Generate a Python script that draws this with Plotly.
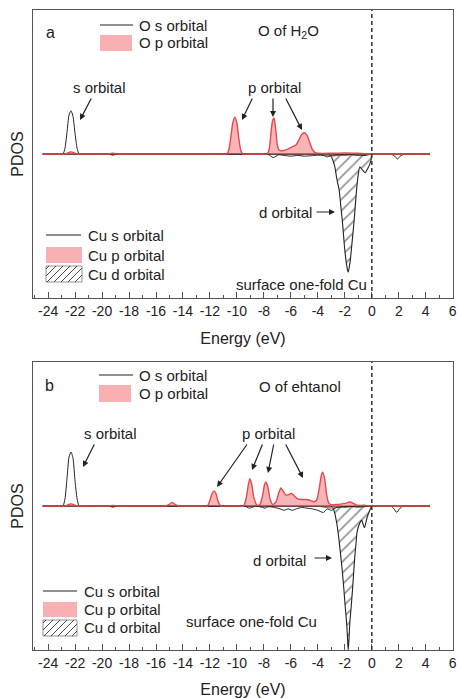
import plotly.graph_objects as go

# ---------------- data ----------------
x_tickvals = [-24, -22, -20, -18, -16, -14, -12, -10, -8, -6, -4, -2, 0, 2, 4, 6]
x_ticktext = ["-24", "-22", "-20", "-18", "-16", "-14", "-12", "-10", "-8", "-6", "-4", "-2", "0", "2", "4", "6"]

# Panel a : O of H2O (positive) / surface one-fold Cu (negative)
a_Os_E = [-24.4, -23.3, -22.9, -22.75, -22.6, -22.45, -22.3, -22.15, -22.0, -21.85, -21.7, -21.3, 4.3]
a_Os_V = [0, 0, 0, 0.04, 0.15, 0.27, 0.30, 0.26, 0.14, 0.04, 0, 0, 0]

a_Op_E = [-24.4, -23.0, -22.7, -22.5, -22.3, -22.1, -21.9, -21.6, -19.9, -19.6, -19.2, -18.8, -18.5,
          -11.1, -10.75, -10.6, -10.45, -10.3, -10.15, -10.0, -9.85, -9.7, -9.55, -9.25,
          -8.05, -7.75, -7.6, -7.45, -7.35, -7.25, -7.12, -7.0, -6.85, -6.5, -6.2, -5.9, -5.6,
          -5.4, -5.2, -5.0, -4.8, -4.6, -4.4, -4.2, -4.0, -3.0, -2.0, -1.0, 0.0, 0.3, 4.3]
a_Op_V = [0, 0, 0, 0.01, 0.015, 0.01, 0, 0, 0, 0, 0.005, 0, 0,
          0, 0, 0.03, 0.12, 0.22, 0.255, 0.21, 0.1, 0.02, 0, 0,
          0, 0, 0.04, 0.17, 0.235, 0.25, 0.17, 0.06, 0.025, 0.025, 0.035, 0.05, 0.065,
          0.1, 0.135, 0.148, 0.13, 0.08, 0.03, 0.01, 0.005, 0.005, 0.008, 0.005, 0, 0, 0]

a_Cus_E = [-24.4, -19.8, -19.5, -19.2, -18.9, -18.6, -8.0, -7.7, -7.5, -7.3, -7.1, -6.9, -6.5, -6.0,
           -5.5, -5.0, -4.5, -4.0, -3.6, -3.3, -3.0, -2.5, -1.5, -0.5, 0, 0.3, 1.1, 1.4, 1.7, 1.9,
           2.1, 2.4, 2.7, 4.3]
a_Cus_V = [0, 0, 0, -0.008, 0, 0, 0, 0, -0.015, -0.025, -0.015, -0.005, -0.01, -0.015,
           -0.01, -0.015, -0.012, -0.008, -0.01, -0.02, -0.01, -0.005, -0.005, -0.01, 0, 0, 0, 0,
           -0.015, -0.035, -0.015, 0, 0, 0]

a_Cup_E = [-24.4, -4.3, -4.0, -3.5, -3.0, -2.5, -2.0, -1.5, -1.0, -0.5, 0, 0.3, 4.3]
a_Cup_V = [0, 0, 0, -0.01, -0.015, -0.01, -0.01, -0.005, -0.01, -0.005, 0, 0, 0]

a_Cud_E = [-24.4, -3.6, -3.3, -3.06, -2.9, -2.74, -2.6, -2.42, -2.3, -2.17, -2.0, -1.85, -1.75,
           -1.6, -1.45, -1.3, -1.15, -1.0, -0.89, -0.7, -0.5, -0.3, -0.15, -0.05, 0.0, 0.3, 4.3]
a_Cud_V = [0, 0, 0, -0.01, -0.04, -0.09, -0.17, -0.25, -0.36, -0.48, -0.67, -0.78, -0.82,
           -0.74, -0.6, -0.45, -0.27, -0.14, -0.09, -0.11, -0.13, -0.1, -0.07, -0.04, 0, 0, 0]

# Panel b : O of ethanol (positive) / surface one-fold Cu (negative)
b_Os_E = [-24.4, -23.3, -22.9, -22.75, -22.6, -22.45, -22.3, -22.15, -22.0, -21.85, -21.7, -21.3, 4.3]
b_Os_V = [0, 0, 0, 0.05, 0.19, 0.34, 0.375, 0.33, 0.17, 0.05, 0, 0, 0]

b_Op_E = [-24.4, -23.0, -22.7, -22.5, -22.3, -22.1, -21.9, -21.6, -19.9, -19.6, -19.2, -18.8, -18.5,
          -15.6, -15.3, -15.0, -14.8, -14.6, -14.3, -14.0,
          -12.5, -12.2, -12.0, -11.85, -11.7, -11.55, -11.4, -11.2, -10.9,
          -9.8, -9.5, -9.3, -9.15, -9.04, -8.9, -8.75, -8.5, -8.3, -8.1, -7.95, -7.85, -7.7, -7.55,
          -7.35, -7.1, -6.9, -6.74, -6.55, -6.35, -6.15, -5.95, -5.75, -5.5, -5.2, -4.9, -4.6,
          -4.3, -4.1, -3.9, -3.75, -3.65, -3.5, -3.35, -3.2, -3.0, -2.6, -2.2, -1.9, -1.63,
          -1.4, -1.1, -0.6, 0, 0.3, 4.3]
b_Op_V = [0, 0, 0, 0.01, 0.015, 0.01, 0, 0, 0, 0, 0.004, 0, 0,
          0, 0, 0.012, 0.025, 0.012, 0, 0,
          0, 0, 0.04, 0.085, 0.105, 0.085, 0.035, 0, 0,
          0, 0, 0.06, 0.15, 0.19, 0.15, 0.06, 0.005, 0.01, 0.07, 0.15, 0.167, 0.13, 0.05,
          0.01, 0.03, 0.09, 0.125, 0.1, 0.075, 0.08, 0.088, 0.07, 0.05, 0.045, 0.045, 0.04,
          0.03, 0.04, 0.12, 0.21, 0.235, 0.19, 0.08, 0.02, 0.01, 0.01, 0.015, 0.02, 0.028,
          0.02, 0.005, 0.005, 0, 0, 0]

b_Cus_E = [-24.4, -19.8, -19.5, -19.2, -18.9, -18.6, -9.7, -9.4, -9.1, -8.9, -8.6, -8.1, -7.9, -7.7,
           -7.2, -6.8, -6.5, -6.2, -5.9, -5.6, -5.2, -4.8, -4.4, -4.0, -3.6, -3.3, -3.0, -2.6, 0,
           0.3, 1.1, 1.4, 1.65, 1.85, 2.05, 2.3, 2.6, 4.3]
b_Cus_V = [0, 0, 0, -0.008, 0, 0, 0, 0, -0.015, -0.01, 0, -0.01, -0.015, -0.005,
           -0.01, -0.02, -0.03, -0.02, -0.03, -0.02, -0.01, -0.015, -0.02, -0.03, -0.045, -0.02,
           -0.03, -0.01, 0, 0, 0, 0, -0.02, -0.045, -0.02, 0, 0, 0]

b_Cup_E = [-24.4, -4.3, -4.0, -3.5, -3.0, -2.5, -2.0, -1.5, -1.0, -0.5, 0, 0.3, 4.3]
b_Cup_V = [0, 0, 0, -0.01, -0.015, -0.01, -0.01, -0.005, -0.01, -0.005, 0, 0, 0]

b_Cud_E = [-24.4, -3.4, -3.1, -2.9, -2.75, -2.6, -2.45, -2.3, -2.18, -2.07, -1.97, -1.87, -1.8,
           -1.75, -1.69, -1.63, -1.53, -1.43, -1.35, -1.26, -1.17, -1.09, -0.9, -0.75, -0.55,
           -0.35, -0.15, 0, 0.3, 4.3]
b_Cud_V = [0, 0, 0, -0.01, -0.05, -0.12, -0.22, -0.35, -0.46, -0.58, -0.70, -0.81, -0.92,
           -1.0, -0.92, -0.81, -0.70, -0.58, -0.47, -0.35, -0.26, -0.18, -0.12, -0.1, -0.15,
           -0.08, -0.03, 0, 0, 0]

# ---------------- styles ----------------
FONT = "Liberation Sans, Arial, sans-serif"
TXT = "#222222"
RED = "#E5484D"
PINK_FILL = "rgba(242,120,125,0.55)"
PINK_SOLID = "#F9B0B3"
W, H = 457, 698
ML, MR, MT, MB = 33, 4, 10, 48
PW, PH = W - ML - MR, H - MT - MB


def px(x):
    return (x - ML) / PW


def py(y):
    return (H - MB - y) / PH


fig = go.Figure()

panels = [
    ("x", "y", a_Os_E, a_Os_V, a_Op_E, a_Op_V, a_Cus_E, a_Cus_V, a_Cup_E, a_Cup_V, a_Cud_E, a_Cud_V),
    ("x2", "y2", b_Os_E, b_Os_V, b_Op_E, b_Op_V, b_Cus_E, b_Cus_V, b_Cup_E, b_Cup_V, b_Cud_E, b_Cud_V),
]
for (xa, ya, OsE, OsV, OpE, OpV, CusE, CusV, CupE, CupV, CudE, CudV) in panels:
    sp = dict(shape="spline", smoothing=0.6)
    fig.add_trace(go.Scatter(x=CudE, y=CudV, xaxis=xa, yaxis=ya, mode="lines", fill="tozeroy",
                             fillcolor="white",
                             fillpattern=dict(shape="/", fgcolor="#2a2a2a", bgcolor="white", size=8, solidity=0.22),
                             line=dict(color="#222222", width=1.1, **sp), showlegend=False))
    fig.add_trace(go.Scatter(x=CupE, y=CupV, xaxis=xa, yaxis=ya, mode="lines", fill="tozeroy",
                             fillcolor=PINK_FILL, line=dict(color=RED, width=1, **sp), showlegend=False))
    fig.add_trace(go.Scatter(x=CusE, y=CusV, xaxis=xa, yaxis=ya, mode="lines",
                             line=dict(color="#222222", width=1, **sp), showlegend=False))
    fig.add_trace(go.Scatter(x=OsE, y=OsV, xaxis=xa, yaxis=ya, mode="lines",
                             line=dict(color="#222222", width=1, **sp), showlegend=False))
    fig.add_trace(go.Scatter(x=OpE, y=OpV, xaxis=xa, yaxis=ya, mode="lines", fill="tozeroy",
                             fillcolor=PINK_FILL, line=dict(color=RED, width=1.4, **sp), showlegend=False))

xcommon = dict(range=[-25.12, 6.02], tickmode="array", tickvals=x_tickvals, ticktext=x_ticktext,
               ticks="inside", ticklen=6, tickwidth=1.2, tickcolor="#555555",
               minor=dict(tickmode="linear", tick0=-25, dtick=1, ticks="inside", ticklen=3,
                          tickwidth=1.2, tickcolor="#555555"),
               showline=True, mirror=True, linecolor="#555555", linewidth=1.3,
               showgrid=False, zeroline=False,
               tickfont=dict(family=FONT, size=14, color=TXT),
               title=dict(text="Energy (eV)", font=dict(family=FONT, size=16, color=TXT), standoff=14))
ycommon = dict(range=[-1, 1], showticklabels=False, ticks="", showline=True, mirror=True,
               linecolor="#555555", linewidth=1.3, showgrid=False, zeroline=False,
               title=dict(text="PDOS", font=dict(family=FONT, size=16, color=TXT), standoff=4))

fig.update_layout(
    width=W, height=H, margin=dict(l=ML, r=MR, t=MT, b=MB, autoexpand=False),
    paper_bgcolor="white", plot_bgcolor="white", showlegend=False,
    xaxis=dict(anchor="y", domain=[0, 1], **xcommon),
    yaxis=dict(anchor="x", domain=[py(298), 1.0], **ycommon),
    xaxis2=dict(anchor="y2", domain=[0, 1], **xcommon),
    yaxis2=dict(anchor="x2", domain=[0, py(362)], **ycommon),
)

# dashed Fermi level lines
for xa, ya in (("x", "y"), ("x2", "y2")):
    fig.add_shape(type="line", xref=xa, yref=ya + " domain", x0=0, x1=0, y0=0, y1=1,
                  line=dict(color="#333333", width=1.5, dash="4px,3px"))

annots = []
shapes = []


def text(t, x, y, size=15, anchor="center"):
    annots.append(dict(text=t, x=px(x), y=py(y), xref="paper", yref="paper", showarrow=False,
                       xanchor=anchor, yanchor="middle", font=dict(family=FONT, size=size, color=TXT)))


def arrow(x_head, y_head, ax, ay):
    annots.append(dict(text="", x=px(x_head), y=py(y_head), xref="paper", yref="paper",
                       showarrow=True, ax=ax, ay=ay, arrowhead=2, arrowsize=1, arrowwidth=1.2,
                       arrowcolor="#222222"))


def legend_line(x0, x1, y):
    shapes.append(dict(type="line", xref="paper", yref="paper", x0=px(x0), x1=px(x1), y0=py(y), y1=py(y),
                       line=dict(color="#222222", width=1.2)))


def legend_pink(x0, x1, y0, y1):
    shapes.append(dict(type="rect", xref="paper", yref="paper", x0=px(x0), x1=px(x1), y0=py(y1), y1=py(y0),
                       fillcolor=PINK_SOLID, line=dict(width=0)))


def legend_hatch(x0, x1, y0, y1, step=7):
    shapes.append(dict(type="rect", xref="paper", yref="paper", x0=px(x0), x1=px(x1), y0=py(y1), y1=py(y0),
                       fillcolor="white", line=dict(color="#777777", width=0.8)))
    w, h = x1 - x0, y1 - y0
    c = -h + 3
    while c < w:
        s = max(0, c)
        e = min(w, c + h)
        xs, xe = x0 + s, x0 + e
        ys, ye = y1 - (s - c), y1 - (e - c)
        shapes.append(dict(type="line", xref="paper", yref="paper", x0=px(xs), x1=px(xe), y0=py(ys), y1=py(ye),
                           line=dict(color="#333333", width=0.9)))
        c += step


# ---- panel a annotations ----
text("a", 50, 33, size=16)
legend_line(100, 133, 25); text("O s orbital", 137, 25, anchor="left")
legend_pink(100, 132, 35, 51); text("O p orbital", 137, 43, anchor="left")
text("O of H<sub>2</sub>O", 288, 31)
text("s orbital", 99, 87)
arrow(80, 120, 12, -23)
text("p orbital", 274, 88)
arrow(242, 120, 11, -23)
arrow(273, 117, 0, -20)
arrow(302, 130, -17, -33)
text("d orbital", 285, 212)
arrow(335, 212, -20, 0)
text("surface one-fold Cu", 301, 284)
legend_line(46, 81, 235); text("Cu s orbital", 86, 235, anchor="left")
legend_pink(46, 82, 247, 263); text("Cu p orbital", 86, 255, anchor="left")
legend_hatch(46, 82, 266, 282); text("Cu d orbital", 86, 274, anchor="left")

# ---- panel b annotations ----
text("b", 49, 385, size=16)
legend_line(99, 133, 375); text("O s orbital", 137, 375, anchor="left")
legend_pink(99, 131, 385, 402); text("O p orbital", 137, 393, anchor="left")
text("O of ehtanol", 300, 386)
text("s orbital", 110, 433)
arrow(83, 467, 12, -24)
text("p orbital", 268, 433)
arrow(217, 487, 31, -44)
arrow(252, 470, 11, -27)
arrow(268, 473, 6, -30)
arrow(303, 478, -18, -35)
text("d orbital", 279, 560)
arrow(332, 558, -19, 0)
text("surface one-fold Cu", 251, 621)
legend_line(43, 77, 591); text("Cu s orbital", 82, 591, anchor="left")
legend_pink(43, 77, 602, 617); text("Cu p orbital", 82, 609, anchor="left")
legend_hatch(43, 77, 620, 636); text("Cu d orbital", 82, 627, anchor="left")

fig.update_layout(annotations=annots)
for s in shapes:
    fig.add_shape(**s)

fig.write_html("out.html")
